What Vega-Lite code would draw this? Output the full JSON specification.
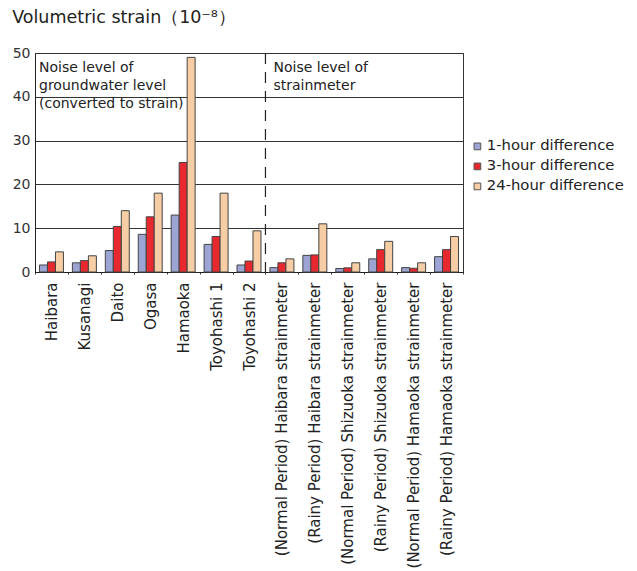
{
  "$schema": "https://vega.github.io/schema/vega-lite/v6.json",
  "width": 428,
  "height": 219,
  "padding": {"left": 12, "top": 8, "right": 5, "bottom": 5},
  "background": "white",
  "config": {
    "font": "DejaVu Sans",
    "view": {"stroke": "#333", "strokeWidth": 1}
  },
  "title": {
    "text": "Volumetric strain（10⁻⁸）",
    "anchor": "start",
    "frame": "bounds",
    "fontSize": 17.5,
    "fontWeight": "normal",
    "color": "#222",
    "offset": 20,
    "dx": 0
  },
  "data": {
    "values": [
      {"site": "Haibara", "diff": "1-hour difference", "value": 1.6},
      {"site": "Haibara", "diff": "3-hour difference", "value": 2.3},
      {"site": "Haibara", "diff": "24-hour difference", "value": 4.6},
      {"site": "Kusanagi", "diff": "1-hour difference", "value": 2.1},
      {"site": "Kusanagi", "diff": "3-hour difference", "value": 2.6},
      {"site": "Kusanagi", "diff": "24-hour difference", "value": 3.7},
      {"site": "Daito", "diff": "1-hour difference", "value": 4.9},
      {"site": "Daito", "diff": "3-hour difference", "value": 10.4},
      {"site": "Daito", "diff": "24-hour difference", "value": 14.0},
      {"site": "Ogasa", "diff": "1-hour difference", "value": 8.6},
      {"site": "Ogasa", "diff": "3-hour difference", "value": 12.6},
      {"site": "Ogasa", "diff": "24-hour difference", "value": 18.0},
      {"site": "Hamaoka", "diff": "1-hour difference", "value": 13.0},
      {"site": "Hamaoka", "diff": "3-hour difference", "value": 25.0},
      {"site": "Hamaoka", "diff": "24-hour difference", "value": 49.0},
      {"site": "Toyohashi 1", "diff": "1-hour difference", "value": 6.3},
      {"site": "Toyohashi 1", "diff": "3-hour difference", "value": 8.1},
      {"site": "Toyohashi 1", "diff": "24-hour difference", "value": 18.0},
      {"site": "Toyohashi 2", "diff": "1-hour difference", "value": 1.6},
      {"site": "Toyohashi 2", "diff": "3-hour difference", "value": 2.5},
      {"site": "Toyohashi 2", "diff": "24-hour difference", "value": 9.4},
      {"site": "(Normal Period) Haibara strainmeter", "diff": "1-hour difference", "value": 1.0},
      {"site": "(Normal Period) Haibara strainmeter", "diff": "3-hour difference", "value": 2.1},
      {"site": "(Normal Period) Haibara strainmeter", "diff": "24-hour difference", "value": 3.0},
      {"site": "(Rainy Period) Haibara strainmeter", "diff": "1-hour difference", "value": 3.8},
      {"site": "(Rainy Period) Haibara strainmeter", "diff": "3-hour difference", "value": 3.9},
      {"site": "(Rainy Period) Haibara strainmeter", "diff": "24-hour difference", "value": 11.0},
      {"site": "(Normal Period) Shizuoka strainmeter", "diff": "1-hour difference", "value": 0.8},
      {"site": "(Normal Period) Shizuoka strainmeter", "diff": "3-hour difference", "value": 0.95},
      {"site": "(Normal Period) Shizuoka strainmeter", "diff": "24-hour difference", "value": 2.1},
      {"site": "(Rainy Period) Shizuoka strainmeter", "diff": "1-hour difference", "value": 3.0},
      {"site": "(Rainy Period) Shizuoka strainmeter", "diff": "3-hour difference", "value": 5.1},
      {"site": "(Rainy Period) Shizuoka strainmeter", "diff": "24-hour difference", "value": 7.0},
      {"site": "(Normal Period) Hamaoka strainmeter", "diff": "1-hour difference", "value": 1.0},
      {"site": "(Normal Period) Hamaoka strainmeter", "diff": "3-hour difference", "value": 0.85},
      {"site": "(Normal Period) Hamaoka strainmeter", "diff": "24-hour difference", "value": 2.1},
      {"site": "(Rainy Period) Hamaoka strainmeter", "diff": "1-hour difference", "value": 3.5},
      {"site": "(Rainy Period) Hamaoka strainmeter", "diff": "3-hour difference", "value": 5.1},
      {"site": "(Rainy Period) Hamaoka strainmeter", "diff": "24-hour difference", "value": 8.1}
    ]
  },
  "layer": [
    {
      "mark": {"type": "bar", "stroke": "#444", "strokeWidth": 1},
      "encoding": {
        "x": {
          "field": "site",
          "type": "nominal",
          "sort": null,
          "title": null,
          "scale": {"paddingInner": 0, "paddingOuter": 0},
          "axis": {
            "labelAngle": -90,
            "labelFontSize": 15,
            "labelColor": "#222",
            "labelPadding": 8,
            "labelLimit": 400,
            "tickBand": "extent",
            "tickSize": 2,
            "tickColor": "#333",
            "domainColor": "#222"
          }
        },
        "xOffset": {
          "field": "diff",
          "type": "nominal",
          "sort": ["1-hour difference", "3-hour difference", "24-hour difference"],
          "scale": {"paddingInner": 0, "paddingOuter": 0.56}
        },
        "y": {
          "field": "value",
          "type": "quantitative",
          "title": null,
          "scale": {"domain": [0, 50], "nice": false},
          "axis": {
            "values": [0, 10, 20, 30, 40, 50],
            "labelFontSize": 14,
            "labelColor": "#333",
            "ticks": false,
            "labelPadding": 5,
            "gridColor": "#333",
            "gridWidth": 1,
            "gridOpacity": 1,
            "domainColor": "#222"
          }
        },
        "color": {
          "field": "diff",
          "type": "nominal",
          "sort": ["1-hour difference", "3-hour difference", "24-hour difference"],
          "title": null,
          "scale": {
            "domain": ["1-hour difference", "3-hour difference", "24-hour difference"],
            "range": ["#9ba4d2", "#e8282f", "#f6cda4"]
          },
          "legend": {
            "orient": "none",
            "legendX": 435,
            "legendY": 86,
            "symbolType": "square",
            "symbolSize": 45,
            "symbolStrokeColor": "#555",
            "symbolStrokeWidth": 1,
            "labelFontSize": 14.8,
            "labelColor": "#222",
            "labelOffset": 2,
            "rowPadding": 4
          }
        }
      }
    },
    {
      "data": {"values": [{}]},
      "mark": {"type": "rule", "strokeDash": [11, 8], "color": "#222", "strokeWidth": 1.2},
      "encoding": {
        "x": {"datum": "(Normal Period) Haibara strainmeter", "bandPosition": 0}
      }
    },
    {
      "data": {"values": [{}]},
      "mark": {"type": "text", "align": "left", "baseline": "top", "fontSize": 14, "color": "#222", "lineHeight": 18, "dx": 4, "dy": 8},
      "encoding": {
        "x": {"datum": "Haibara", "bandPosition": 0},
        "y": {"datum": 50},
        "text": {"value": ["Noise level of", "groundwater level", "(converted to strain)"]}
      }
    },
    {
      "data": {"values": [{}]},
      "mark": {"type": "text", "align": "left", "baseline": "top", "fontSize": 14, "color": "#222", "lineHeight": 18, "dx": 8, "dy": 8},
      "encoding": {
        "x": {"datum": "(Normal Period) Haibara strainmeter", "bandPosition": 0},
        "y": {"datum": 50},
        "text": {"value": ["Noise level of", "strainmeter"]}
      }
    }
  ]
}
